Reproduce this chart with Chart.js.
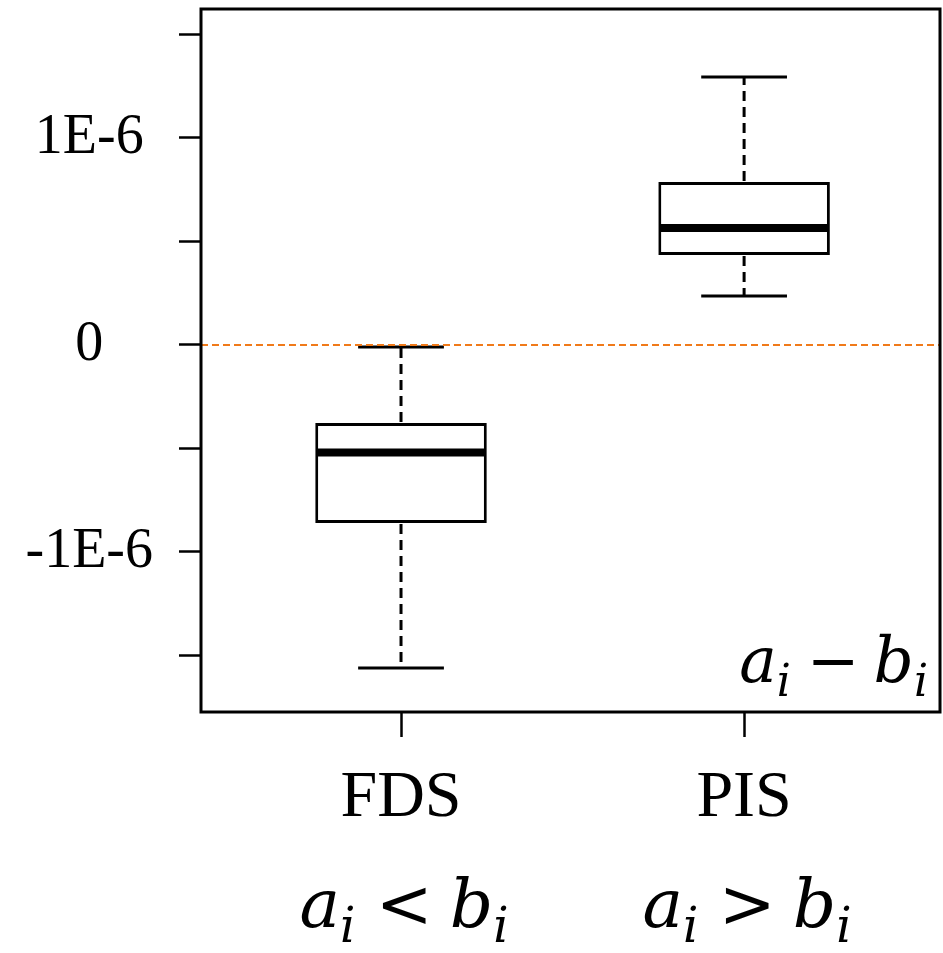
<!DOCTYPE html>
<html><head><meta charset="utf-8">
<script src="https://cdn.jsdelivr.net/npm/chart.js@4.4.1/dist/chart.umd.min.js"></script>
<style>html,body{margin:0;padding:0;background:#fff;}#wrap{width:943px;height:953px;position:relative;}</style>
</head><body><div id="wrap"><canvas id="c"></canvas></div>
<script>
// ---- data ----
const categories = ['FDS', 'PIS'];
const categoryPositions = [1, 2];
const conditionOps = ['<', '>'];          // a_i ? b_i under each category
const whiskerLow  = [-1.56e-6, 0.237e-6];
const q1          = [-0.86e-6, 0.435e-6];
const median      = [-0.52e-6, 0.565e-6];
const q3          = [-0.377e-6, 0.787e-6];
const whiskerHigh = [-0.01e-6, 1.295e-6];
const yTickValues = [-1.5e-6, -1e-6, -0.5e-6, 0, 0.5e-6, 1e-6, 1.5e-6];
const yTickLabels = ['', '-1E-6', '', '0', '', '1E-6', ''];
const referenceValue = 0;
const yMin = -1.773e-6, yMax = 1.623e-6;
const xMin = 0.417, xMax = 2.571;

const SERIF = '"Liberation Serif", "Times New Roman", serif';
const MATH = '"DejaVu Serif", serif';

function drawMath(ctx, parts, x, baseline, align, size) {
  const fontFor = p => p.sub ? `italic ${Math.round(size * 0.7)}px ${MATH}`
                    : (p.upright ? `${size}px ${MATH}` : `italic ${size}px ${MATH}`);
  let total = 0;
  const widths = parts.map(p => { ctx.font = fontFor(p); const w = ctx.measureText(p.t).width + (p.gapL||0) + (p.gapR||0); total += w; return w; });
  let cx = align === 'right' ? x - total : (align === 'center' ? x - total / 2 : x);
  ctx.fillStyle = '#000';
  ctx.textBaseline = 'alphabetic';
  ctx.textAlign = 'left';
  parts.forEach((p, k) => {
    ctx.font = fontFor(p);
    ctx.fillText(p.t, cx + (p.gapL||0), baseline + (p.sub ? size * 0.22 : 0));
    cx += widths[k];
  });
}
function relationParts(op, size) {
  return [
    {t:'a'}, {t:'i', sub:true},
    {t:op, upright:true, gapL:size*0.3, gapR:size*0.25},
    {t:'b'}, {t:'i', sub:true}
  ];
}

const boxDecor = {
  id: 'boxDecor',
  afterDatasetsDraw(chart) {
    const ctx = chart.ctx, xs = chart.scales.x, ys = chart.scales.y, area = chart.chartArea;
    const meta = chart.getDatasetMeta(0);
    ctx.save();
    categoryPositions.forEach((pos, i) => {
      const cx = xs.getPixelForValue(pos);
      const w = meta.data[i].width;
      const yq1 = ys.getPixelForValue(q1[i]), yq3 = ys.getPixelForValue(q3[i]);
      const ylo = ys.getPixelForValue(whiskerLow[i]), yhi = ys.getPixelForValue(whiskerHigh[i]);
      const ymed = ys.getPixelForValue(median[i]);
      ctx.strokeStyle = '#000';
      ctx.lineWidth = 3;
      ctx.setLineDash([10, 6]);
      ctx.beginPath();
      ctx.moveTo(cx, yq3 - 1); ctx.lineTo(cx, yhi);
      ctx.moveTo(cx, yq1 + 1); ctx.lineTo(cx, ylo);
      ctx.stroke();
      ctx.setLineDash([]);
      ctx.beginPath();
      ctx.moveTo(cx - w / 4, yhi); ctx.lineTo(cx + w / 4, yhi);
      ctx.moveTo(cx - w / 4, ylo); ctx.lineTo(cx + w / 4, ylo);
      ctx.stroke();
      ctx.lineWidth = 8;
      ctx.beginPath();
      ctx.moveTo(cx - w / 2 + 1, ymed); ctx.lineTo(cx + w / 2 - 1, ymed);
      ctx.stroke();
    });
    const y0 = ys.getPixelForValue(referenceValue);
    ctx.strokeStyle = '#F07A1A';
    ctx.lineWidth = 2;
    ctx.setLineDash([7, 4]);
    ctx.beginPath(); ctx.moveTo(area.left, y0); ctx.lineTo(area.right, y0); ctx.stroke();
    ctx.setLineDash([]);
    ctx.strokeStyle = '#000';
    ctx.lineWidth = 3;
    ctx.strokeRect(area.left, area.top, area.right - area.left, area.bottom - area.top);
    drawMath(ctx, [{t:'a'}, {t:'i', sub:true}, {t:'\u2212', upright:true, gapL:16, gapR:14}, {t:'b'}, {t:'i', sub:true}],
             area.right - 12, area.bottom - 30, 'right', 63);
    categoryPositions.forEach((pos, i) => {
      const cx = xs.getPixelForValue(pos);
      drawMath(ctx, relationParts(conditionOps[i], 68), cx + 3, 927, 'center', 68);
    });
    ctx.restore();
  }
};

new Chart(document.getElementById('c'), {
  type: 'bar',
  data: {
    datasets: [{
      data: categoryPositions.map((x, i) => ({x: x, y: [q1[i], q3[i]]})),
      backgroundColor: '#ffffff',
      borderColor: '#000000',
      borderWidth: 3,
      borderSkipped: false,
      barPercentage: 0.5,
      categoryPercentage: 1.0
    }]
  },
  options: {
    responsive: true,
    maintainAspectRatio: false,
    animation: false,
    layout: { padding: { top: 9, right: 3, left: 0, bottom: 0 } },
    plugins: { legend: { display: false }, tooltip: { enabled: false } },
    scales: {
      x: {
        type: 'linear', min: xMin, max: xMax, offset: false,
        afterBuildTicks: s => { s.ticks = categoryPositions.map(v => ({value: v})); },
        afterFit: s => { s.height = 241; s.paddingLeft = 0; s.paddingRight = 0; },
        ticks: {
          callback: v => categories[categoryPositions.indexOf(v)],
          font: { family: SERIF, size: 66 }, color: '#000', padding: 22,
          maxRotation: 0, autoSkip: false
        },
        grid: { offset: false, drawOnChartArea: false, drawTicks: true, tickLength: 25, tickWidth: 2.5, tickColor: '#000' },
        border: { display: false }
      },
      y: {
        type: 'linear', min: yMin, max: yMax,
        afterBuildTicks: s => { s.ticks = yTickValues.map(v => ({value: v})); },
        afterFit: s => { s.width = 201; s.paddingTop = 0; s.paddingBottom = 0; },
        ticks: {
          callback: v => yTickLabels[yTickValues.indexOf(v)],
          font: { family: SERIF, size: 56 }, color: '#000', padding: 26,
          crossAlign: 'center', autoSkip: false
        },
        grid: { drawOnChartArea: false, drawTicks: true, tickLength: 22, tickWidth: 2.5, tickColor: '#000' },
        border: { display: false }
      }
    }
  },
  plugins: [boxDecor]
});
</script></body></html>
